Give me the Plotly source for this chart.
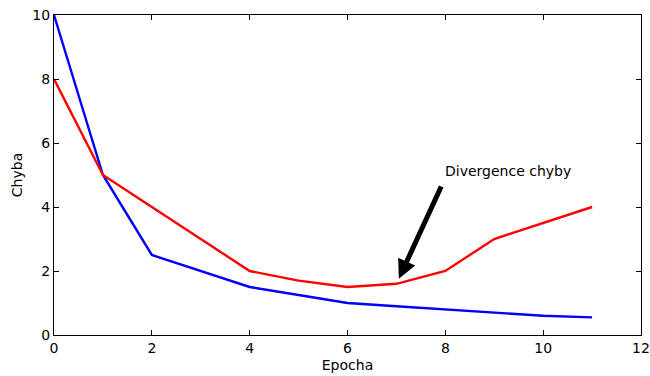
import plotly.graph_objects as go

epochs = [0, 1, 2, 3, 4, 5, 6, 7, 8, 9, 10, 11]
train_err = [10, 5, 2.5, 2.0, 1.5, 1.25, 1.0, 0.9, 0.8, 0.7, 0.6, 0.55]
val_err = [8, 5, 4, 3, 2, 1.7, 1.5, 1.6, 2, 3, 3.5, 4]
x_ticks = [0, 2, 4, 6, 8, 10, 12]
y_ticks = [0, 2, 4, 6, 8, 10]

font = dict(family="DejaVu Sans", size=14, color="black")

fig = go.Figure()
fig.add_trace(go.Scatter(x=epochs, y=train_err, mode="lines",
                         line=dict(color="#0000ff", width=2.4), showlegend=False))
fig.add_trace(go.Scatter(x=epochs, y=val_err, mode="lines",
                         line=dict(color="#ff0000", width=2.4), showlegend=False))

# arrow
fig.add_annotation(x=7.05, y=1.76, ax=7.93, ay=4.69, xref="x", yref="y",
                   axref="x", ayref="y", text="", showarrow=True,
                   arrowhead=2, arrowsize=0.75, arrowwidth=5, arrowcolor="black")
# text
fig.add_annotation(x=8, y=5, xref="x", yref="y", text="Divergence chyby",
                   showarrow=False, xanchor="left", yanchor="bottom",
                   font=font, xshift=-2, yshift=-6)

axis_common = dict(showline=True, linecolor="black", linewidth=1, mirror="ticks",
                   ticks="inside", ticklen=5, tickcolor="black", tickwidth=1,
                   showgrid=False, zeroline=False, tickfont=font, automargin=False)
fig.update_xaxes(range=[0, 12], tickvals=x_ticks, title=dict(text="Epocha", font=font, standoff=5),
                 **axis_common)
fig.update_yaxes(range=[0, 10], tickvals=y_ticks, title=dict(text="Chyba", font=font, standoff=6),
                 **axis_common)
fig.update_layout(width=650, height=376, margin=dict(l=54, r=9, t=15, b=41),
                  template="none",
                  paper_bgcolor="white", plot_bgcolor="white", font=font)
fig.write_html("out.html")
